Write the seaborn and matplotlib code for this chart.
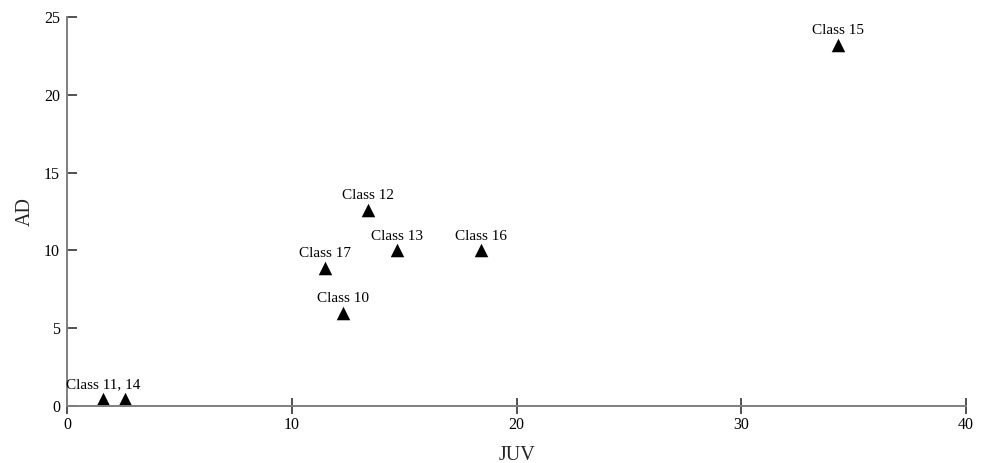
import matplotlib
matplotlib.use("Agg")
import matplotlib.pyplot as plt
import seaborn as sns
import pandas as pd

# values
juv = [34.3, 13.4, 14.7, 18.4, 11.5, 12.3, 1.6, 2.6]
ad = [23.2, 12.6, 10.0, 10.0, 8.9, 6.0, 0.45, 0.45]
labels = ["Class 15", "Class 12", "Class 13", "Class 16", "Class 17", "Class 10", "Class 11, 14", ""]

df = pd.DataFrame({"JUV": juv, "AD": ad, "label": labels})

sns.set_style("white")
plt.rcParams['font.family'] = ['Liberation Serif', 'DejaVu Serif']

fig = plt.figure(figsize=(9.83, 4.63), dpi=100)
ax = fig.add_axes([0.0682, 0.1231, 0.9145, 0.8402])

sns.scatterplot(data=df, x="JUV", y="AD", marker="^", color="black", s=95,
                linewidth=0, ax=ax, legend=False)

for _, r in df.iterrows():
    if r["label"]:
        ax.annotate(r["label"], (r["JUV"], r["AD"]), xytext=(0, 5.5),
                    textcoords="offset points", ha="center", va="bottom",
                    fontsize=11, color="black")

ax.set_xlim(0, 40)
ax.set_ylim(0, 25)
ax.set_xticks([0, 10, 20, 30, 40])
ax.set_yticks([0, 5, 10, 15, 20, 25])

for side in ["top", "right"]:
    ax.spines[side].set_visible(False)
for side in ["left", "bottom"]:
    ax.spines[side].set_color("#7f7f7f")
    ax.spines[side].set_linewidth(1.4)

ax.tick_params(axis="x", bottom=True, direction="inout", length=12, width=1.2,
               color="#333333", labelsize=11.5, labelcolor="black", pad=2)
ax.tick_params(axis="y", left=True, direction="in", length=7, width=1.2,
               color="#333333", labelsize=11.5, labelcolor="black", pad=5)

ax.set_xlabel("JUV", fontsize=14.5, labelpad=9)
ax.set_ylabel("AD", fontsize=14.5, labelpad=7)

fig.savefig("out.png", dpi=100)
